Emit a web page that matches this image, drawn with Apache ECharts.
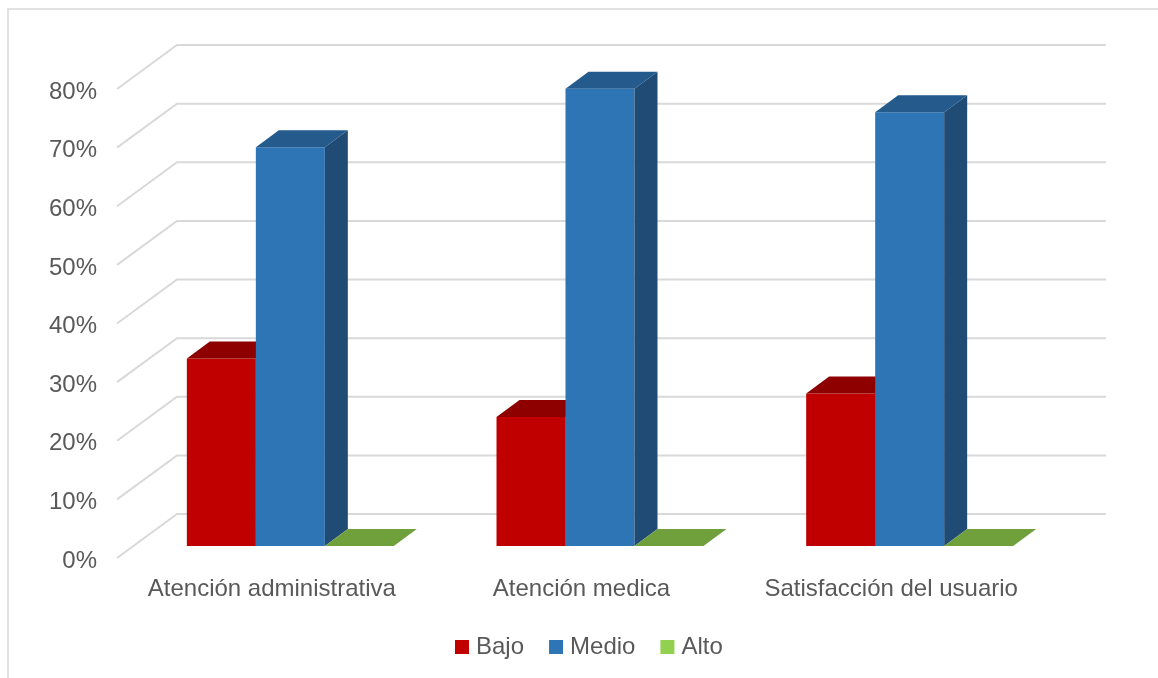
<!DOCTYPE html>
<html><head><meta charset="utf-8">
<script src="https://cdn.jsdelivr.net/npm/echarts/dist/echarts.min.js"></script>
<style>html,body{margin:0;padding:0;background:#fff}#c{width:1158px;height:678px}</style>
</head><body><div id="c"></div>
<script>
const categories = ['Atención administrativa', 'Atención medica', 'Satisfacción del usuario'];
const seriesNames = ['Bajo', 'Medio', 'Alto'];
const bajo = [32, 22, 26];
const medio = [68, 78, 74];
const alto = [0, 0, 0];
const yTicks = [0, 10, 20, 30, 40, 50, 60, 70, 80];

const FONT = '"Liberation Sans", Arial, sans-serif';
const TXT = '#595959';
const GRID_DEPTH = [60, -44];   // floor depth (front edge -> back wall), px
const PLANE_DX = 18.5, PLANE_DY = -12; // bar front plane offset from front edge
const BAR_DEPTH = [23, -17];
const BAR_FRAC = 0.2228;

const palette = [
  { front: '#C00000', top: '#8E0000', side: '#7A0000', legend: '#C00000' },
  { front: '#2E75B6', top: '#245A8C', side: '#1F4B75', legend: '#2E75B6' },
  { front: '#92D050', top: '#70A03C', side: '#5E8A30', legend: '#92D050' }
];

function barSeries(name, values, idx) {
  const colors = palette[idx];
  return {
    type: 'custom', name: name, coordinateSystem: 'cartesian2d',
    itemStyle: { color: colors.legend },
    data: values.map((v, i) => [i, v]),
    encode: { x: 0, y: 1 },
    z: 2 + idx, silent: true, clip: false,
    renderItem: function (params, api) {
      const i = api.value(0), v = api.value(1);
      const base = api.coord([i, 0]);
      const topP = api.coord([i, v]);
      const band = api.size([1, 0])[0];
      const bw = band * BAR_FRAC;
      const x0 = base[0] - 1.5 * bw + idx * bw + PLANE_DX;
      const x1 = x0 + bw;
      const yb = base[1] + PLANE_DY;
      const yt = topP[1] + PLANE_DY;
      const dx = BAR_DEPTH[0], dy = BAR_DEPTH[1];
      const children = [];
      if (yb - yt > 0.5) {
        children.push({ type: 'rect', shape: { x: x0, y: yt, width: bw, height: yb - yt }, style: { fill: colors.front } });
        children.push({ type: 'polygon', shape: { points: [[x1, yt], [x1 + dx, yt + dy], [x1 + dx, yb + dy], [x1, yb]] }, style: { fill: colors.side } });
      }
      children.push({ type: 'polygon', shape: { points: [[x0, yt], [x1, yt], [x1 + dx, yt + dy], [x0 + dx, yt + dy]] }, style: { fill: colors.top } });
      return { type: 'group', children: children };
    }
  };
}

const chart = echarts.init(document.getElementById('c'), null, { renderer: 'canvas' });
chart.setOption({
  backgroundColor: '#fff',
  animation: false,
  graphic: [{
    type: 'rect', shape: { x: 8, y: 9, width: 1200, height: 720 },
    style: { fill: null, stroke: '#D9D9D9', lineWidth: 1.5 }, silent: true, z: -10
  }],
  grid: { left: 117, right: 112, top: 89, bottom: 120, containLabel: false },
  xAxis: {
    type: 'category', data: categories,
    axisLine: { show: false }, axisTick: { show: false }, splitLine: { show: false },
    axisLabel: { interval: 0, fontFamily: FONT, fontSize: 24, color: TXT, margin: 19 }
  },
  yAxis: {
    type: 'value', min: 0, max: 80, interval: 10,
    axisLine: { show: false }, axisTick: { show: false }, splitLine: { show: false },
    axisLabel: { formatter: '{value}%', fontFamily: FONT, fontSize: 24, color: TXT, margin: 20, verticalAlign: 'top', lineHeight: 6 }
  },
  legend: {
    data: seriesNames, left: 455, top: 635, padding: 0, icon: 'rect', itemWidth: 14, itemHeight: 14, itemGap: 25,
    textStyle: { fontFamily: FONT, fontSize: 24, color: TXT, padding: [0, 0, 0, 2] }
  },
  series: [
    {
      type: 'custom', name: 'grid', silent: true, clip: false, z: 1,
      data: yTicks.map(v => [0, v]), encode: { x: 0, y: 1 },
      renderItem: function (params, api) {
        const v = api.value(1);
        const p = api.coord([0, v]);
        const band = api.size([1, 0])[0];
        const xl = p[0] - band / 2;
        const xr = api.coord([categories.length - 1, v])[0] + band / 2;
        return {
          type: 'polyline',
          shape: { points: [[xl, p[1]], [xl + GRID_DEPTH[0], p[1] + GRID_DEPTH[1]], [xr + GRID_DEPTH[0], p[1] + GRID_DEPTH[1]]] },
          style: { stroke: '#D9D9D9', lineWidth: 2, fill: null }
        };
      }
    },
    barSeries(seriesNames[0], bajo, 0),
    barSeries(seriesNames[1], medio, 1),
    barSeries(seriesNames[2], alto, 2)
  ]
});
</script>
</body></html>
